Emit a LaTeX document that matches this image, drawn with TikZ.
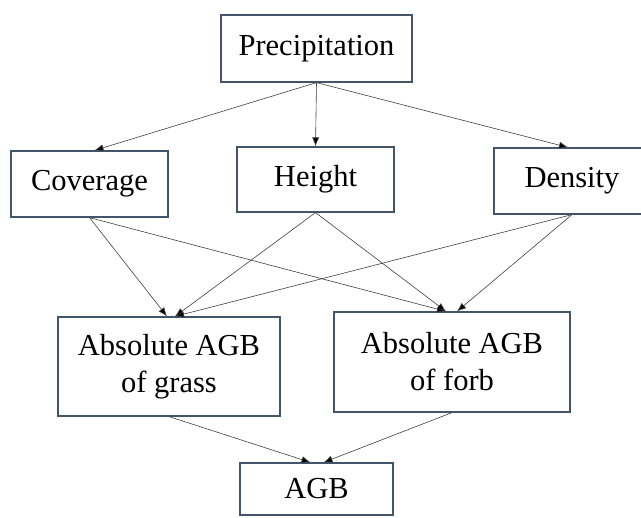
\documentclass[tikz,border=0pt]{standalone}
\usepackage{fontspec}
\setmainfont{Liberation Serif}
\usetikzlibrary{arrows.meta}
\definecolor{boxline}{HTML}{44546A}
\definecolor{arrline}{HTML}{404040}
\begin{document}
\begin{tikzpicture}[x=1pt, y=-1pt,
  box/.style={draw=boxline, line width=1.2pt, fill=white, inner sep=0pt, align=center,
    font=\fontsize{30.5}{37}\selectfont},
  link/.style={draw=arrline, line width=0.6pt, -{Latex[length=9pt,width=7pt,fill=black]}}]
\useasboundingbox (0,0) rectangle (641,518);
\node[box, minimum width=191, minimum height=67] (prec) at (316.5,48.5) {Precipitation};
\node[box, minimum width=157, minimum height=66] (cov) at (89.5,184) {Coverage};
\node[box, minimum width=157, minimum height=65] (hgt) at (315.5,179.5) {Height};
\node[box, minimum width=156, minimum height=66] (den) at (572,181) {Density};
\node[box, minimum width=222, minimum height=99] (grass) at (169,366.5) {Absolute AGB\\of grass};
\node[box, minimum width=236, minimum height=100] (forb) at (452,362) {Absolute AGB\\of forb};
\node[box, minimum width=153, minimum height=52] (agb) at (316.5,489) {AGB};
% precipitation to the three traits
\draw[link] (prec.south) -- ([xshift=5pt]cov.north);
\draw[link] (prec.south) -- (hgt.north);
\draw[link] (prec.south) -- ([xshift=-4pt]den.north);
% traits to biomass
\draw[link] (cov.south) -- ([xshift=-2pt]grass.north);
\draw[link] (hgt.south) -- ([xshift=6pt]grass.north);
\draw[link] (den.south) -- ([xshift=6pt]grass.north);
\draw[link] (cov.south) -- ([xshift=-6pt]forb.north);
\draw[link] (hgt.south) -- ([xshift=-6pt]forb.north);
\draw[link] (den.south) -- ([xshift=5pt]forb.north);
% biomass to AGB
\draw[link] (grass.south) -- ([xshift=-6pt]agb.north);
\draw[link] (forb.south) -- ([xshift=7pt]agb.north);
\end{tikzpicture}
\end{document}
